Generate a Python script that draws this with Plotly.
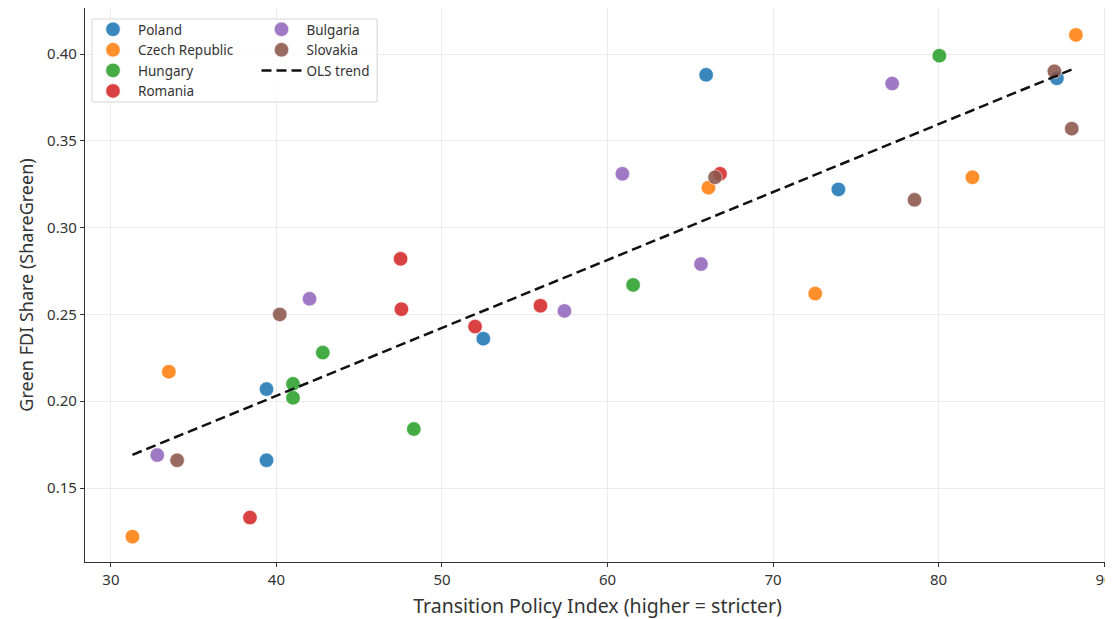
import numpy as np
import plotly.graph_objects as go

countries = ["Poland", "Czech Republic", "Hungary", "Romania", "Bulgaria", "Slovakia"]
colors = ["#1f77b4", "#ff7f0e", "#2ca02c", "#d62728", "#9467bd", "#8c564b"]

poland_x = [65.96, 73.95, 87.15, 52.5, 39.4, 39.4]
poland_y = [0.388, 0.322, 0.386, 0.236, 0.207, 0.166]
czech_x = [88.3, 66.1, 82.05, 72.55, 33.5, 31.3]
czech_y = [0.411, 0.323, 0.329, 0.262, 0.217, 0.122]
hungary_x = [80.05, 61.55, 42.8, 41.0, 41.0, 48.3]
hungary_y = [0.399, 0.267, 0.228, 0.210, 0.202, 0.184]
romania_x = [66.8, 47.5, 47.55, 52.0, 55.95, 38.4]
romania_y = [0.331, 0.282, 0.253, 0.243, 0.255, 0.133]
bulgaria_x = [77.2, 60.9, 65.65, 42.0, 57.4, 32.8]
bulgaria_y = [0.383, 0.331, 0.279, 0.259, 0.252, 0.169]
slovakia_x = [87.0, 88.05, 78.55, 66.5, 40.2, 34.0]
slovakia_y = [0.390, 0.357, 0.316, 0.329, 0.250, 0.166]

xs = [poland_x, czech_x, hungary_x, romania_x, bulgaria_x, slovakia_x]
ys = [poland_y, czech_y, hungary_y, romania_y, bulgaria_y, slovakia_y]

x_ticks = [30, 40, 50, 60, 70, 80, 90]
y_ticks = [0.15, 0.20, 0.25, 0.30, 0.35, 0.40]

FONT = "Noto Sans"
TXT = "#333333"

fig = go.Figure()
legend_of = {"Poland": "legend", "Czech Republic": "legend", "Hungary": "legend",
             "Romania": "legend", "Bulgaria": "legend2", "Slovakia": "legend2"}
for name, col, x, y in zip(countries, colors, xs, ys):
    fig.add_trace(go.Scatter(
        x=x, y=y, mode="markers", name=name, legend=legend_of[name],
        marker=dict(size=14.5, color=col, opacity=0.88, line=dict(color="white", width=0.6)),
    ))

all_x = np.concatenate([np.array(v) for v in xs])
all_y = np.concatenate([np.array(v) for v in ys])
b1, b0 = np.polyfit(all_x, all_y, 1)
tx = np.array([all_x.min(), all_x.max()])
fig.add_trace(go.Scatter(
    x=tx, y=b0 + b1 * tx, mode="lines", name="OLS trend", legend="legend2",
    line=dict(color="#111111", width=2.5, dash="10px,5px"),
))

# page body has an 8px margin: figure occupies screen (8..1113, 8..619)
OFF = 8
W, H = 1113 - OFF, 619 - OFF
PL, PR, PT, PB = 85, 1113, 8, 562   # plot area in screen pixels
L, R, T, B = PL - OFF, 1113 - PR, PT - OFF, 619 - PB
pw, ph = PR - PL, PB - PT

def px(xp):
    return (xp - PL) / pw

def py(yp):
    return (PB - yp) / ph

axis_common = dict(
    showline=True, linecolor="#333333", linewidth=1.25,
    ticks="outside", ticklen=4, tickwidth=1, tickcolor="#333333",
    showgrid=True, gridcolor="#ebebeb", gridwidth=1, zeroline=False,
    tickfont=dict(family=FONT, size=15, color=TXT),
    ticklabeloverflow="allow",
    mirror=False,
)

LEGFONT = dict(family=FONT, size=13.5, color=TXT)

fig.update_layout(
    width=W, height=H,
    margin=dict(l=L, r=R, t=T, b=B, pad=0),
    paper_bgcolor="white", plot_bgcolor="white",
    font=dict(family=FONT, color=TXT),
    xaxis=dict(range=[28.434, 90.36], tickvals=x_ticks,
               title=dict(text="Transition Policy Index (higher = stricter)",
                          font=dict(family=FONT, size=19.5, color=TXT), standoff=11),
               **axis_common),
    yaxis=dict(range=[0.1074, 0.4265], tickvals=y_ticks, tickformat=".2f",
               title=dict(text="Green FDI Share (ShareGreen)",
                          font=dict(family=FONT, size=18, color=TXT), standoff=8),
               **axis_common),
    legend=dict(x=px(88), y=py(14), xanchor="left", yanchor="top",
                bgcolor="rgba(0,0,0,0)", font=LEGFONT,
                tracegroupgap=0, itemwidth=40),
    legend2=dict(x=px(257), y=py(14), xanchor="left", yanchor="top",
                 bgcolor="rgba(0,0,0,0)", font=LEGFONT,
                 tracegroupgap=0, itemwidth=40),
    shapes=[dict(type="rect", xref="paper", yref="paper",
                 x0=px(92), x1=px(378), y0=py(102), y1=py(19),
                 line=dict(color="#d6d6d6", width=1),
                 fillcolor="rgba(255,255,255,0.85)", layer="above")],
)

fig.write_html("out.html")
